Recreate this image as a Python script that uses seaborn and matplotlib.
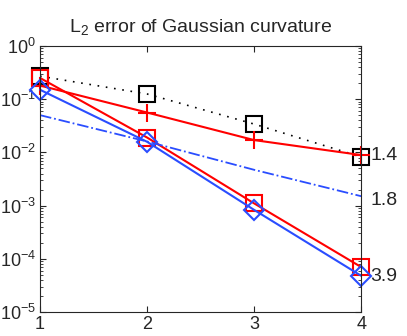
import numpy as np
import pandas as pd
import matplotlib
matplotlib.use('Agg')
import matplotlib.pyplot as plt
import matplotlib.ticker as mticker
import seaborn as sns

sns.set_style('ticks')
plt.rcParams['font.family'] = ['Liberation Sans', 'DejaVu Sans']
plt.rcParams['mathtext.fontset'] = 'custom'
plt.rcParams['mathtext.rm'] = 'Liberation Sans'
plt.rcParams['mathtext.it'] = 'Liberation Sans'
plt.rcParams['mathtext.default'] = 'regular'

# ===== Data =====
level = [1, 2, 3, 4]
err_black_sq = [0.27, 0.125, 0.034, 0.0082]
err_red_plus = [0.18, 0.056, 0.017, 0.0089]
err_red_sq = [0.25, 0.019, 0.0011, 7.0e-5]
err_blue_dia = [0.15, 0.0158, 0.00083, 4.8e-5]
err_blue_dashdot = [0.05, 0.016, 0.0047, 0.0015]

rate_labels = ['1.4', '1.8', '3.9']
rate_y = [0.0089, 0.00127, 4.6e-5]

red = '#ff0000'
blue = '#2a4dff'

fig = plt.figure(figsize=(4.07, 3.36), dpi=100)
ax = fig.add_axes([0.0983, 0.0714, 0.789, 0.792])

sns.lineplot(x=level, y=err_black_sq, ax=ax, color='black', linestyle=(0, (1, 4)), lw=1.2,
             marker='s', markersize=11, markerfacecolor='none',
             markeredgecolor='black', markeredgewidth=1.5, clip_on=False)
sns.lineplot(x=level, y=err_red_plus, ax=ax, color=red, linestyle='-', lw=1.5,
             marker='+', markersize=13, markeredgecolor=red, markeredgewidth=1.5,
             clip_on=False)
sns.lineplot(x=level, y=err_red_sq, ax=ax, color=red, linestyle='-', lw=1.5,
             marker='s', markersize=11, markerfacecolor='none',
             markeredgecolor=red, markeredgewidth=1.5, clip_on=False)
sns.lineplot(x=level, y=err_blue_dia, ax=ax, color=blue, linestyle='-', lw=1.5,
             marker='D', markersize=10, markerfacecolor='none',
             markeredgecolor=blue, markeredgewidth=1.5, clip_on=False)
sns.lineplot(x=level, y=err_blue_dashdot, ax=ax, color=blue, linestyle='-.', lw=1.3)

for lab, yv in zip(rate_labels, rate_y):
    ax.text(4.085, yv, lab, fontsize=14, va='center', ha='left', clip_on=False)

ax.set_yscale('log')
ax.set_xlim(1, 4)
ax.set_ylim(1e-5, 1)
ax.set_xticks(level)
ax.yaxis.set_major_locator(mticker.LogLocator(base=10, numticks=10))
ax.yaxis.set_minor_locator(mticker.LogLocator(base=10, subs=np.arange(2, 10), numticks=10))
ax.yaxis.set_minor_formatter(mticker.NullFormatter())
ax.tick_params(which='both', direction='in', top=True, right=True, labelsize=13, pad=3)
ax.tick_params(axis='y', pad=3)
ax.tick_params(which='major', length=4, width=0.8)
ax.tick_params(which='minor', length=2, width=0.6)
for s in ax.spines.values():
    s.set_linewidth(0.8)

ax.set_title('L$_2$ error of Gaussian curvature', fontsize=14, pad=10)

fig.savefig('out.png', dpi=100)
